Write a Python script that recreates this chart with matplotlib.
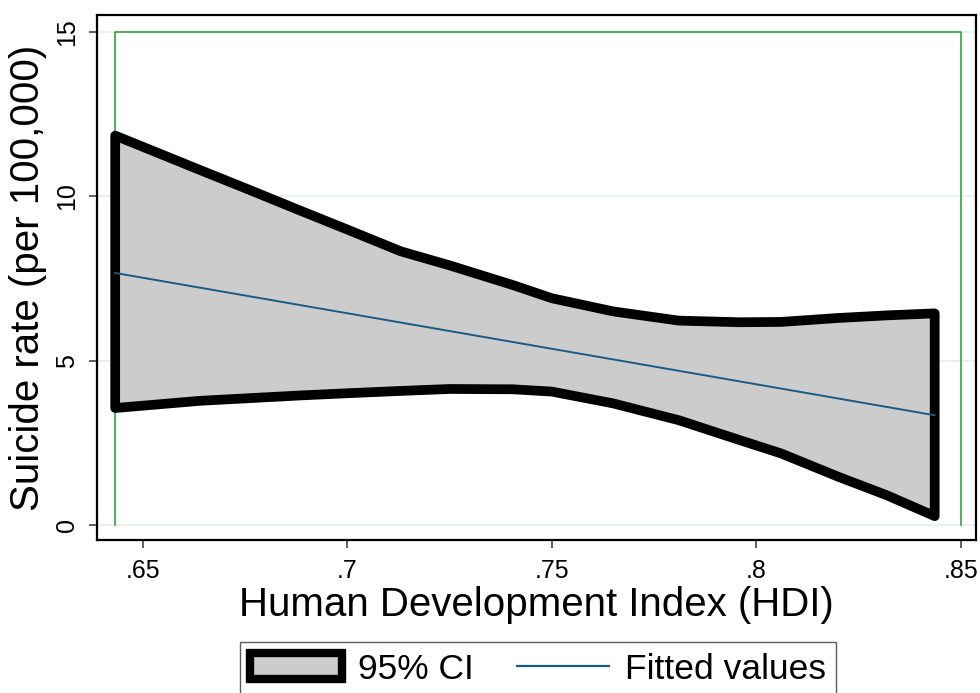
import numpy as np
import matplotlib
matplotlib.use('Agg')
import matplotlib.pyplot as plt
from matplotlib.patches import Patch
from matplotlib.lines import Line2D

plt.rcParams['font.family'] = ['Liberation Sans', 'DejaVu Sans']

# values
hdi = [0.6432, 0.664, 0.676, 0.688, 0.700, 0.713, 0.725, 0.7405, 0.750,
       0.765, 0.781, 0.796, 0.806, 0.820, 0.832, 0.8436]
ci_upper = [11.85, 10.80, 10.20, 9.59, 8.99, 8.33, 7.90, 7.30, 6.90,
            6.50, 6.22, 6.17, 6.18, 6.30, 6.38, 6.44]
ci_lower = [3.56, 3.78, 3.86, 3.94, 4.01, 4.08, 4.14, 4.13, 4.06,
            3.70, 3.19, 2.58, 2.18, 1.47, 0.90, 0.27]
fit_x = [0.6432, 0.8436]
fit_y = [7.67, 3.34]

# green box (data range)
box_x = [0.6432, 0.6432, 0.85, 0.85]
box_y = [0, 15, 15, 0]

xticks = [0.65, 0.7, 0.75, 0.8, 0.85]
xtick_labels = ['.65', '.7', '.75', '.8', '.85']
yticks = [0, 5, 10, 15]

fig = plt.figure(figsize=(9.8, 6.93), dpi=100)
ax = fig.add_axes([97 / 980, 1 - 540 / 693, (976 - 97) / 980, (540 - 15) / 693])

for yv in yticks:
    ax.axhline(yv, color='#e4eef1', lw=1.2, zorder=0)

ax.plot(box_x, box_y, color='#1f9e2c', lw=1.1, zorder=1)

xs = np.array(hdi)
poly_x = np.concatenate([xs, xs[::-1]])
poly_y = np.concatenate([ci_upper, np.array(ci_lower)[::-1]])
ax.fill(poly_x, poly_y, facecolor='#cccccc', edgecolor='black', lw=7,
        joinstyle='round', zorder=2)

ax.plot(fit_x, fit_y, color='#1a5a87', lw=1.4, zorder=3)

ax.set_xlim(0.63875, 0.8537)
ax.set_ylim(-0.456, 15.52)
ax.set_xticks(xticks)
ax.set_xticklabels(xtick_labels)
ax.set_yticks(yticks)
ax.set_yticklabels([str(v) for v in yticks], rotation=90, va='center')

for sp in ax.spines.values():
    sp.set_linewidth(1.6)
    sp.set_color('black')

ax.tick_params(axis='both', direction='out', length=6, width=1.1,
               color='#333333', labelsize=18)
ax.tick_params(axis='x', pad=8)
ax.tick_params(axis='y', pad=7)

ax.set_xlabel('Human Development Index (HDI)', fontsize=29, labelpad=2)
ax.set_ylabel('Suicide rate (per 100,000)', fontsize=29, labelpad=6)

handles = [
    Patch(facecolor='#cccccc', edgecolor='black', lw=6),
    Line2D([0], [0], color='#1a5a87', lw=1.6),
]
leg = fig.legend(handles, ['95% CI', 'Fitted values'], loc='upper center',
                 bbox_to_anchor=(538 / 980, 1 - 642 / 693), ncol=2, fontsize=25.5,
                 frameon=True, fancybox=False, edgecolor='#333333',
                 handlelength=2.6, handleheight=0.75, columnspacing=1.2,
                 borderpad=0.3, handletextpad=0.45, borderaxespad=0)
leg.get_frame().set_linewidth(1.0)

fig.savefig('out.png', dpi=100)
